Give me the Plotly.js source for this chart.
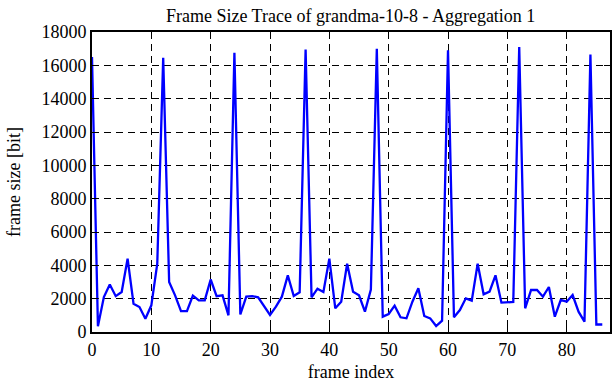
<!DOCTYPE html>
<html>
<head>
<meta charset="utf-8">
<script src="https://cdn.plot.ly/plotly-3.0.1.min.js"></script>
<style>html,body{margin:0;padding:0;background:#fff;}#chart{width:612px;height:382px;}</style>
</head>
<body>
<div id="chart"></div>
<script>
const frameIndex = [];
for (let i = 0; i <= 86; i++) frameIndex.push(i);
const frameSize = [
  16500, 350, 2100, 2850, 2150, 2400, 4400, 1700, 1500, 800,
  1600, 4100, 16450, 3000, 2200, 1250, 1250, 2180, 1900, 1900,
  3150, 2150, 2200, 1000, 16750, 1050, 2120, 2150, 2080, 1520,
  1020, 1520, 2120, 3400, 2160, 2380, 16950, 2080, 2600, 2400,
  4400, 1420, 1820, 4100, 2420, 2200, 1220, 2550, 17000, 920,
  1080, 1580, 880, 820, 1820, 2620, 960, 820, 360, 680,
  16900, 880, 1320, 2020, 1880, 4100, 2260, 2420, 3400, 1760,
  1760, 1800, 17100, 1420, 2520, 2520, 2120, 2700, 920, 1920,
  1820, 2220, 1220, 620, 16650, 450, 450
];
const titleText = 'Frame Size Trace of grandma-10-8 - Aggregation 1';
const xTitle = 'frame index';
const yTitle = 'frame size [bit]';

const font = {family: '"Liberation Serif", "DejaVu Serif", serif', size: 18, color: '#000'};
Plotly.newPlot('chart', [{
  x: frameIndex, y: frameSize, type: 'scatter', mode: 'lines',
  line: {color: '#0000ff', width: 2.3}, hoverinfo: 'none'
}], {
  width: 612, height: 382,
  margin: {l: 92, r: 2, t: 32, b: 50},
  paper_bgcolor: '#fff', plot_bgcolor: '#fff',
  font: font,
  showlegend: false,
  title: {text: titleText, font: font, x: 0.573, xanchor: 'center', y: 0.975, yanchor: 'top'},
  xaxis: {
    range: [0, 87.3], tick0: 0, dtick: 10, showgrid: true,
    gridcolor: '#000', griddash: '7px,5px', gridwidth: 1,
    ticks: 'inside', ticklen: 6, tickcolor: '#000', mirror: 'allticks',
    showline: true, linecolor: '#000', linewidth: 2, zeroline: false,
    title: {text: xTitle, font: font, standoff: 7},
    tickfont: font
  },
  yaxis: {
    range: [0, 18000], tick0: 0, dtick: 2000, showgrid: true,
    gridcolor: '#000', griddash: '7px,5px', gridwidth: 1,
    ticks: 'inside', ticklen: 6, tickcolor: '#000', mirror: 'allticks',
    showline: true, linecolor: '#000', linewidth: 2, zeroline: false,
    title: {text: yTitle, font: font, standoff: 16},
    tickfont: font, tickformat: 'd'
  }
}, {staticPlot: true});
</script>
</body>
</html>
